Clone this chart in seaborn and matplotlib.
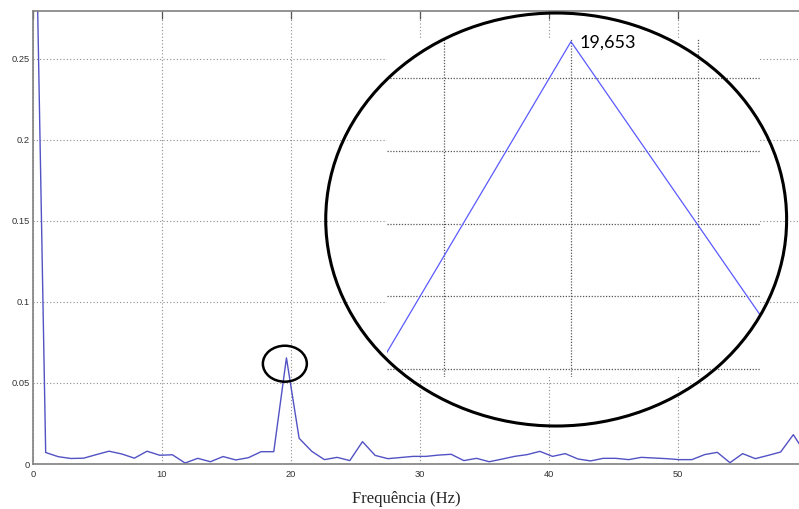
import matplotlib
matplotlib.use("Agg")
import matplotlib.pyplot as plt
from matplotlib.patches import Ellipse
import pandas as pd
import seaborn as sns

# spectrum (Hz, amplitude)
freq = [0.000, 0.983, 1.965, 2.948, 3.931, 4.913, 5.896, 6.879, 7.861, 8.844,
        9.827, 10.810, 11.792, 12.775, 13.758, 14.740, 15.723, 16.706, 17.688, 18.671,
        19.653, 20.636, 21.619, 22.601, 23.584, 24.567, 25.549, 26.532, 27.515, 28.497,
        29.480, 30.463, 31.445, 32.428, 33.411, 34.393, 35.376, 36.359, 37.341, 38.324,
        39.307, 40.289, 41.272, 42.255, 43.237, 44.220, 45.203, 46.185, 47.168, 48.151,
        49.133, 50.116, 51.099, 52.081, 53.064, 54.047, 55.029, 56.012, 56.995, 57.977,
        58.960, 59.943]
amp = [0.4400, 0.0071, 0.0045, 0.0034, 0.0036, 0.0058, 0.0079, 0.0062, 0.0036, 0.0079,
       0.0054, 0.0057, 0.0006, 0.0035, 0.0014, 0.0046, 0.0025, 0.0039, 0.0076, 0.0076,
       0.0655, 0.0159, 0.0078, 0.0027, 0.0041, 0.0021, 0.0138, 0.0053, 0.0033, 0.0040,
       0.0047, 0.0047, 0.0055, 0.0060, 0.0021, 0.0035, 0.0014, 0.0030, 0.0047, 0.0058,
       0.0078, 0.0047, 0.0064, 0.0031, 0.0019, 0.0035, 0.0035, 0.0027, 0.0041, 0.0037,
       0.0033, 0.0027, 0.0027, 0.0058, 0.0072, 0.0008, 0.0064, 0.0033, 0.0053, 0.0074,
       0.0181, 0.0060]

x_ticks = [0, 10, 20, 30, 40, 50]
x_tick_labels = ["0", "10", "20", "30", "40", "50"]
y_ticks = [0, 0.05, 0.1, 0.15, 0.2, 0.25]
y_tick_labels = ["0", "0.05", "0.1", "0.15", "0.2", "0.25"]

# zoomed view around the peak
zoom_x_ticks = [19.603, 19.653, 19.703]
zoom_y_ticks = [0.061, 0.062, 0.063, 0.064, 0.065]

sns.set_style("white")
plt.rcParams["font.family"] = ["Liberation Sans", "DejaVu Sans"]

df = pd.DataFrame({"freq": freq, "amp": amp})
peak = df.loc[df["amp"].iloc[1:].idxmax()]

fig = plt.figure(figsize=(7.99, 5.09), dpi=100)
ax = fig.add_axes([33 / 799, 45 / 509, 766 / 799, 453 / 509])

sns.lineplot(data=df, x="freq", y="amp", ax=ax, color="#5252c4", lw=1.0,
             estimator=None)
ax.set_xlim(0, 59.4)
ax.set_ylim(0, 0.2796)
ax.set_xticks(x_ticks, x_tick_labels)
ax.set_yticks(y_ticks, y_tick_labels)
ax.grid(True, ls=(0, (1, 2)), color="#8c8c8c", lw=0.8)
ax.tick_params(direction="in", length=5.5, width=0.9, color="#555555",
               top=True, labelsize=6.7, labelcolor="#333333")
ax.tick_params(axis="y", pad=2.5)
ax.tick_params(axis="x", pad=4)
for side in ["left", "bottom", "top"]:
    ax.spines[side].set_color("#808080")
    ax.spines[side].set_linewidth(1.2)
ax.spines["right"].set_visible(False)
ax.set_ylabel("")
ax.set_xlabel("Frequência (Hz)", family=["Liberation Serif"], fontsize=12,
              va="baseline")
ax.xaxis.set_label_coords(0.488, -0.087)

# small circle around the peak
ax.add_patch(Ellipse((19.53, 0.0619), 3.41, 0.0222, fill=False, ec="black",
                     lw=1.8, clip_on=False, zorder=5))

# zoomed inset
ax_in = fig.add_axes([387 / 799, 132 / 509, 373 / 799, 339 / 509])
ax_in.set_facecolor("white")
sns.lineplot(data=df, x="freq", y="amp", ax=ax_in, color="#5a5aff", lw=0.9,
             estimator=None)
ax_in.set_xlim(19.5806, 19.7274)
ax_in.set_ylim(0.06089, 0.06555)
ax_in.set_xticks(zoom_x_ticks)
ax_in.set_yticks(zoom_y_ticks)
ax_in.grid(True, ls=(0, (1, 1.3)), color="#555555", lw=0.9)
ax_in.tick_params(length=0, labelbottom=False, labelleft=False)
ax_in.set_xlabel("")
ax_in.set_ylabel("")
for s in ax_in.spines.values():
    s.set_visible(False)

label = f"{peak['freq']:.3f}".replace(".", ",")
ax_in.annotate(label, xy=(peak["freq"], peak["amp"]), xytext=(6, -1),
               textcoords="offset points", ha="left", va="center",
               fontsize=13, family=["Lato", "DejaVu Sans"], color="black",
               annotation_clip=False)

# big circle around the inset
fig.add_artist(Ellipse((40.57, 0.1509), 35.74, 0.2549, transform=ax.transData,
                       fill=False, ec="black", lw=2.2, zorder=10))

fig.savefig("out.png", dpi=100)
